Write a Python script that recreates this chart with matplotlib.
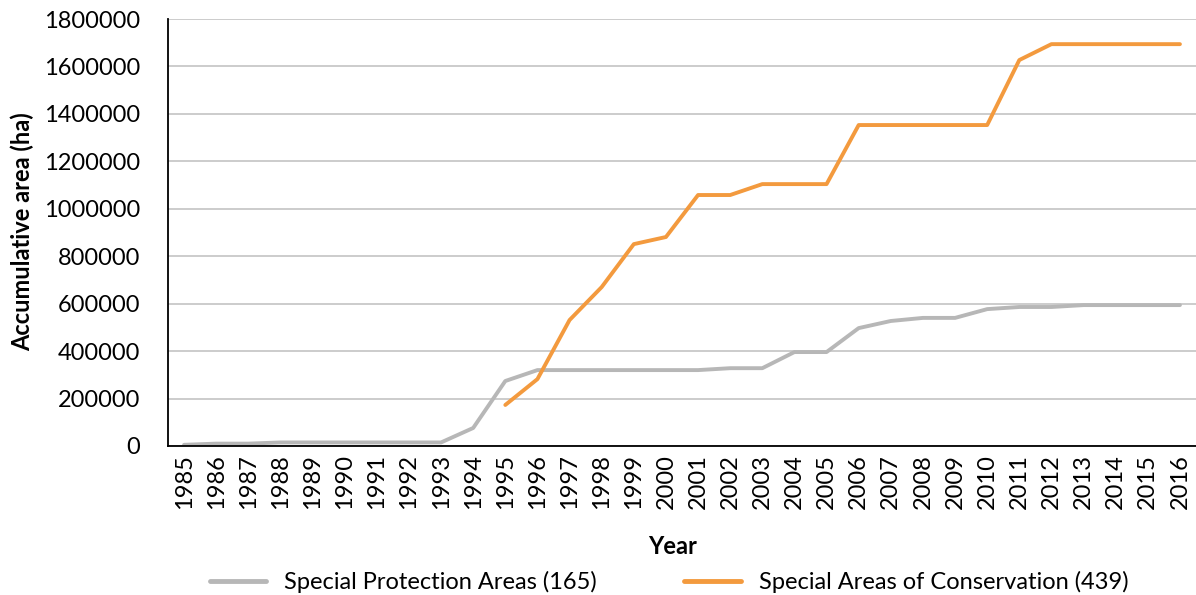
import numpy as np
import matplotlib.pyplot as plt

plt.rcParams['font.family'] = ['Lato', 'DejaVu Sans']

# === Data
years = list(range(1985, 2017))
spa = [5000, 10000, 10000, 15000, 15000, 15000, 15000, 15000, 15000, 76000,
       274000, 320000, 320000, 320000, 320000, 320000, 320000, 328000, 328000,
       396000, 396000, 497000, 527000, 540000, 540000, 577000, 586000, 586000,
       594000, 594000, 594000, 594000]
sac_years = list(range(1995, 2017))
sac = [173000, 282000, 531000, 670000, 851000, 881000, 1058000, 1058000,
       1104000, 1104000, 1104000, 1353000, 1353000, 1353000, 1353000, 1353000,
       1627000, 1694000, 1694000, 1694000, 1694000, 1694000]
spa_label = 'Special Protection Areas (165)'
sac_label = 'Special Areas of Conservation (439)'

fs = 17

# === Plotting
fig = plt.figure(figsize=(11.96, 5.95), dpi=100)
ax = fig.add_axes([168 / 1196, 1 - 446 / 595, (1196 - 168) / 1196, (446 - 19) / 595])

x_spa = np.arange(len(years))
x_sac = np.array([years.index(y) for y in sac_years])
ax.plot(x_spa, spa, color='#b7b7b7', linewidth=2.8, label=spa_label, solid_capstyle='round')
ax.plot(x_sac, sac, color='#f39a3e', linewidth=2.8, label=sac_label, solid_capstyle='round')

ax.set_xlim(-0.5, len(years) - 0.5)
ax.set_ylim(0, 1800000)
ax.set_yticks(np.arange(0, 1800001, 200000))
ax.set_yticklabels([str(v) for v in range(0, 1800001, 200000)], fontsize=fs)
ax.set_xticks(x_spa)
ax.set_xticklabels([str(y) for y in years], rotation=90, fontsize=fs)
ax.tick_params(axis='y', length=0, pad=20)
ax.tick_params(axis='x', length=0, pad=6)

ax.grid(axis='y', color='#c8c8c8', linewidth=1.3)
ax.set_axisbelow(True)
for s in ['top', 'right']:
    ax.spines[s].set_visible(False)
ax.spines['left'].set_color('black')
ax.spines['bottom'].set_color('black')
ax.spines['left'].set_linewidth(1.3)
ax.spines['bottom'].set_linewidth(1.3)

fig.text(673 / 1196, 1 - 547 / 595, 'Year', fontsize=fs, fontweight='bold',
         ha='center', va='center')
fig.text(22 / 1196, 1 - 232 / 595, 'Accumulative area (ha)', fontsize=fs, fontweight='bold',
         ha='center', va='center', rotation=90)

leg = fig.legend(loc='center', bbox_to_anchor=(669 / 1196, 1 - 582 / 595), ncol=2, frameon=False,
                 fontsize=fs, handlelength=2.4, handletextpad=0.75, columnspacing=3.7)
for h in leg.get_lines():
    h.set_linewidth(3.5)

plt.savefig('out.png', dpi=100)
plt.close()
